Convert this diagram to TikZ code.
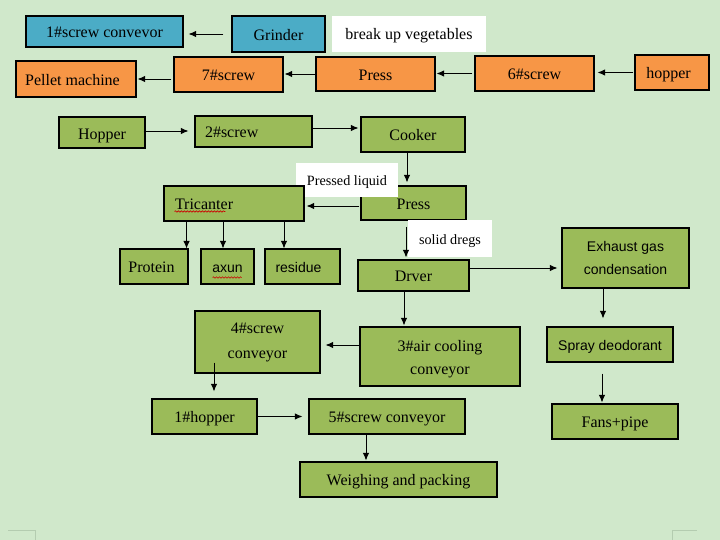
\documentclass[tikz,border=0pt]{standalone}
\usepackage{fontspec}
\setmainfont{Liberation Serif}
\newfontfamily\sansf{Liberation Sans}
\usetikzlibrary{arrows.meta,decorations.pathmorphing}
\definecolor{bg}{HTML}{D0E8CB}
\definecolor{gbox}{HTML}{9BBB59}
\definecolor{bbox}{HTML}{4BACC6}
\definecolor{obox}{HTML}{F79646}
\definecolor{faint}{HTML}{B4CCB0}
\begin{document}
\begin{tikzpicture}[x=1pt,y=-1pt,
  box/.style={draw=black, line width=1.1pt, inner sep=0pt, align=center,
    font=\fontsize{16}{24}\selectfont, text height=12.5pt, text depth=0pt},
  multi/.style={text height=, text depth=},
  gb/.style={box, fill=gbox},
  bb/.style={box, fill=bbox},
  ob/.style={box, fill=obox},
  lab/.style={fill=white, inner sep=0pt, align=center, font=\fontsize{14.2}{17}\selectfont,
    text height=11pt, text depth=0pt},
  sz/.style 2 args={minimum width=#1pt, minimum height=#2pt},
  sans/.style={font=\sansf\fontsize{14}{23}\selectfont},
  arr/.style={-{Latex[length=7.5pt,width=6.5pt]}, line width=0.9pt},
  squig/.style={red!80!black, line width=0.6pt, decorate,
    decoration={snake, amplitude=0.7pt, segment length=3pt}}
]
\fill[bg] (0,0) rectangle (720,540);
\useasboundingbox (0,0) rectangle (720,540);

% top rows
\node[bb, sz={157}{31}] (screwA) at (104.5,31.5) {1\#screw convevor};
\node[bb, sz={93}{36}] (grinder) at (278.5,34) {Grinder};
\node[lab, sz={154}{36}, font=\fontsize{16}{18}\selectfont, text height=12pt] (breakup) at (409,34) {break up vegetables};

\node[ob, sz={120}{36}] (pellet) at (76,79) {\hspace{-7pt}Pellet machine};
\node[ob, sz={109}{35}] (screw7) at (228.5,74.5) {7\#screw};
\node[ob, sz={119}{34}] (pressO) at (375.5,74) {Press};
\node[ob, sz={119}{35}] (screw6) at (534.5,73.5) {6\#screw};
\node[ob, sz={74}{35}] (hopperO) at (672,72.5) {\hspace{-7pt}hopper};

% main line
\node[gb, sz={86}{31}] (hopperG) at (102,132.5) {\raisebox{-1pt}{Hopper}};
\node[gb, sz={117}{31}, text width=97pt, align=left, inner xsep=10pt] (screw2) at (253.5,131.5) {2\#screw};
\node[gb, sz={104}{35}] (cooker) at (413,134.5) {Cooker};
\node[gb, sz={105}{34}] (pressG) at (413.5,203) {Press};
\node[lab, sz={102}{34}] (liquid) at (347,180) {Pressed liquid};
\node[gb, sz={140}{35}, text width=118pt, align=left, inner xsep=11pt] (tric) at (234,203.5) {Tricanter};
\node[gb, sz={68}{35}] (protein) at (154,266.5) {\hspace{-5pt}Protein};
\node[gb, sz={53}{35}, sans] (axun) at (227.5,266.5) {axun};
\node[gb, sz={75}{35}, sans] (residue) at (302.5,266.5) {\hspace{-8pt}residue};
\node[lab, sz={84}{37}] (dregs) at (450,238.5) {solid dregs};
\node[gb, sz={111}{31}] (dryer) at (413.5,275.5) {Drver};
\node[gb, multi, sz={127}{60}, sans] (exhaust) at (625.5,258) {Exhaust gas\\condensation};
\node[gb, sz={126}{35}, sans] (spray) at (610,344.5) {Spray deodorant};
\node[gb, sz={126}{35}] (fans) at (615,421.5) {Fans+pipe};
\node[gb, multi, sz={160}{59}, font=\fontsize{16}{23}\selectfont] (air3) at (440,356.5) {\rule{0pt}{17pt}3\#air cooling\\conveyor};
\node[gb, multi, sz={125}{62}, font=\fontsize{16}{25}\selectfont] (screw4) at (257.5,342) {4\#screw\\conveyor};
\node[gb, sz={105}{35}] (hopper1) at (204.5,416.5) {1\#hopper};
\node[gb, sz={156}{35}] (screw5) at (387,416.5) {5\#screw conveyor};
\node[gb, sz={197}{35}] (weigh) at (398.5,479.5) {Weighing and packing};

% connectors
\draw[arr, shorten <=8pt, shorten >=5pt] (grinder.west) -- (grinder.west -| screwA.east);
\draw[arr, shorten <=2pt, shorten >=1pt] (screw7.west |- pellet.east) -- (pellet.east);
\draw[arr, shorten >=1pt] (pressO.west) -- (pressO.west -| screw7.east);
\draw[arr, shorten <=2pt, shorten >=1pt] (screw6.west) -- (screw6.west -| pressO.east);
\draw[arr, shorten <=1pt, shorten >=3pt] (hopperO.west) -- (hopperO.west -| screw6.east);
\draw[arr, shorten <=-2pt, shorten >=6pt] ([yshift=1.5pt]hopperG.east) -- ([yshift=1.5pt]hopperG.east -| screw2.west);
\draw[arr, shorten >=2pt] ([yshift=3.5pt]screw2.east) -- ([yshift=3.5pt]screw2.east -| cooker.west);
\draw[arr, shorten >=3pt] ([xshift=-6pt]cooker.south) -- ([xshift=-6pt]cooker.south |- pressG.north);
\draw[arr, shorten <=1pt, shorten >=2pt] ([yshift=-3pt]pressG.west) -- ([yshift=-3pt]pressG.west -| tric.east);
\draw[arr] (tric.south -| protein.east) ++(-2pt,0) coordinate (t1) -- (t1 |- protein.north);
\draw[arr] ([xshift=-4.5pt]tric.south -| axun.center) coordinate (t2) -- (t2 |- axun.north);
\draw[arr] ([xshift=-18.5pt]tric.south -| residue.center) coordinate (t3) -- (t3 |- residue.north);
\draw[arr, shorten <=6pt, shorten >=2pt] ([xshift=-7.5pt]pressG.south) -- ([xshift=-7.5pt]pressG.south |- dryer.north);
\draw[arr, shorten >=4pt] ([yshift=7.5pt]dryer.east) -- ([yshift=7.5pt]dryer.east -| exhaust.west);
\draw[arr, shorten >=8pt] ([xshift=-22.5pt]exhaust.south) -- ([xshift=-22.5pt]exhaust.south |- spray.north);
\draw[arr, shorten <=11pt, shorten >=1pt] ([xshift=-8pt]spray.south) -- ([xshift=-8pt]spray.south |- fans.north);
\draw[arr, shorten >=1pt] ([xshift=-9.5pt]dryer.south) -- ([xshift=-9.5pt]dryer.south |- air3.north);
\draw[arr, shorten >=5pt] ([yshift=11.5pt]air3.west) -- ([yshift=11.5pt]air3.west -| screw4.east);
\draw[arr, shorten <=-11pt, shorten >=7pt] ([xshift=-43.5pt]screw4.south) -- ([xshift=-43.5pt]screw4.south |- hopper1.north);
\draw[arr, shorten >=6pt] (hopper1.east) -- (hopper1.east -| screw5.west);
\draw[arr, shorten >=1pt] ([xshift=-21pt]screw5.south) -- ([xshift=-21pt]screw5.south |- weigh.north);

% spell-check marks
\draw[squig] ([xshift=11pt,yshift=-8pt]tric.west) -- ++(51,0);
\draw[squig] ([xshift=-15pt,yshift=-11pt]axun.center) -- ++(29,0);

% faint page corner marks
\draw[faint, line width=0.8pt] (8,530) -- (35,530) -- (35,540);
\draw[faint, line width=0.8pt] (672,540) -- (672,530) -- (697,530);
\end{tikzpicture}
\end{document}
